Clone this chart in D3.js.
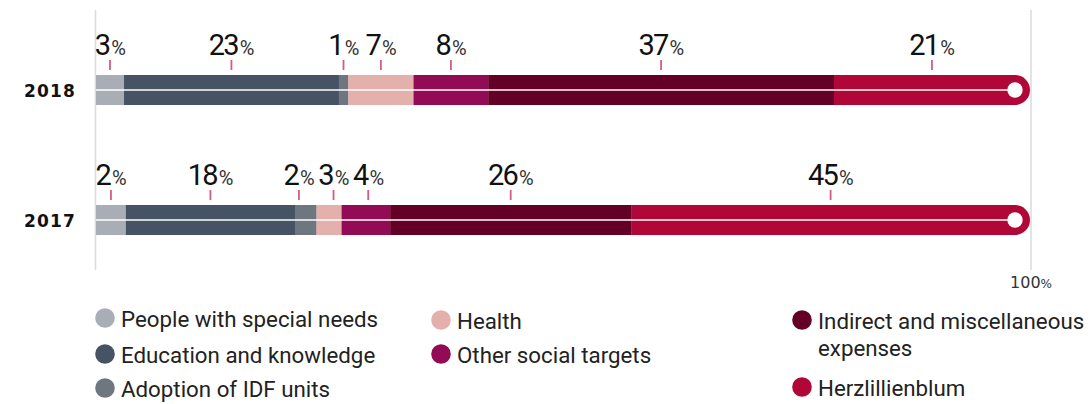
<!DOCTYPE html>
<html>
<head>
<meta charset="utf-8">
<script src="https://cdn.jsdelivr.net/npm/d3@7"></script>
<style>
  html, body { margin: 0; padding: 0; background: #fff; }
  svg { display: block; }
</style>
</head>
<body>
<svg id="chart" width="1090" height="404"></svg>
<script>
// data
var years = ['2018', '2017'];
var categories = ['People with special needs', 'Education and knowledge', 'Adoption of IDF units',
  'Health', 'Other social targets', 'Indirect and miscellaneous expenses', 'Herzlillienblum'];
var colors = ['#a9aeb6', '#465365', '#6e7780', '#e3b0ab', '#930b55', '#640025', '#b00738'];
// bar widths (percent of total)
var values2018 = [3, 23, 1, 7, 8, 37, 21];
var values2017 = [3.2, 18.1, 2.3, 2.7, 5.2, 25.8, 42.7];
// printed labels
var labels2018 = [3, 23, 1, 7, 8, 37, 21];
var labels2017 = [2, 18, 2, 3, 4, 26, 45];

var rows = [
  {year: '2018', values: values2018, labels: labels2018},
  {year: '2017', values: values2017, labels: labels2017}
];

var svg = d3.select('#chart');
var width = 1090, height = 404;
var barH = 30;

var x = d3.scaleLinear().domain([0, 100]).range([96, 1030]);
var y = d3.scalePoint().domain(years).range([90, 220]);

// frame lines at 0 and 100
svg.selectAll('.frame')
  .data([0, 100])
  .enter().append('line')
  .attr('x1', function(d) { return x(d) + (d ? 1 : -0.5); })
  .attr('x2', function(d) { return x(d) + (d ? 1 : -0.5); })
  .attr('y1', 10).attr('y2', 270)
  .attr('stroke', '#dcdcdc').attr('stroke-width', 1.6);

var labelFont = 'Roboto, sans-serif';

rows.forEach(function(row) {
  var cy = y(row.year), top = cy - barH / 2, bottom = cy + barH / 2, r = barH / 2;
  var ends = d3.cumsum(row.values);
  var segs = row.values.map(function(v, i) {
    return {i: i, x0: i ? ends[i - 1] : 0, x1: ends[i], label: row.labels[i]};
  });
  var last = segs.length - 1;

  var g = svg.append('g');

  g.selectAll('path.seg')
    .data(segs)
    .enter().append('path')
    .attr('class', 'seg')
    .attr('fill', function(d) { return colors[d.i]; })
    .attr('d', function(d) {
      var a = x(d.x0), b = x(d.x1);
      if (d.i === last) {
        return 'M' + a + ',' + top + 'H' + (b - r) + 'A' + r + ',' + r + ' 0 0 1 ' + (b - r) + ',' + bottom + 'H' + a + 'Z';
      }
      return 'M' + a + ',' + top + 'H' + (b + 0.3) + 'V' + bottom + 'H' + a + 'Z';
    });

  // white centre line and end dot
  g.append('line')
    .attr('x1', x(0)).attr('x2', x(100) - r)
    .attr('y1', cy).attr('y2', cy)
    .attr('stroke', '#fff').attr('stroke-width', 1.4);
  g.append('circle')
    .attr('cx', x(100) - r).attr('cy', cy).attr('r', 7.7)
    .attr('fill', '#fff');

  // year label
  g.append('text')
    .attr('x', 76).attr('y', cy + 6.5)
    .attr('text-anchor', 'end')
    .style('font-family', '"DejaVu Sans", sans-serif')
    .style('font-weight', 'bold')
    .style('font-size', '17px')
    .style('letter-spacing', '1.2px')
    .attr('fill', '#111')
    .text(row.year);

  // value labels
  var texts = g.selectAll('text.val')
    .data(segs)
    .enter().append('text')
    .attr('class', 'val')
    .attr('y', top - 20)
    .attr('text-anchor', 'middle')
    .style('font-family', labelFont)
    .attr('fill', '#111');
  texts.append('tspan')
    .style('font-size', '29px')
    .style('letter-spacing', '-1.8px')
    .text(function(d) { return d.label; });
  texts.append('tspan')
    .style('font-size', '20px')
    .style('letter-spacing', '-0.5px')
    .attr('fill', '#333').attr('dx', 2).text('%');

  // start at segment centre, then push apart overlapping labels
  segs.forEach(function(d, i) {
    d.pos = x((d.x0 + d.x1) / 2);
    d.w = texts.nodes()[i].getBBox().width;
  });
  for (var k = 0; k < 60; k++) {
    for (var i = 1; i < segs.length; i++) {
      var a = segs[i - 1], b = segs[i];
      var need = (a.w + b.w) / 2 + 4;
      var gap = b.pos - a.pos;
      if (gap < need) {
        var shift = (need - gap) / 2;
        a.pos -= shift;
        b.pos += shift;
      }
    }
  }
  texts.attr('x', function(d) { return d.pos; });

  g.selectAll('line.tick')
    .data(segs)
    .enter().append('line')
    .attr('class', 'tick')
    .attr('x1', function(d) { return d.pos; })
    .attr('x2', function(d) { return d.pos; })
    .attr('y1', top - 15).attr('y2', top - 5)
    .attr('stroke', '#d35c80').attr('stroke-width', 1.8);
});

// 100% label
var hundred = svg.append('text')
  .attr('x', x(100) + 1).attr('y', 288)
  .attr('text-anchor', 'middle')
  .style('font-family', '"DejaVu Sans", sans-serif')
  .attr('fill', '#333');
hundred.append('tspan').style('font-size', '16px').text('100');
hundred.append('tspan').style('font-size', '12px').text('%');

// legend
var legendItems = [
  {i: 0, cx: 105, cy: 318, lines: ['People with special needs']},
  {i: 1, cx: 105, cy: 354, lines: ['Education and knowledge']},
  {i: 2, cx: 105, cy: 388, lines: ['Adoption of IDF units']},
  {i: 3, cx: 441, cy: 320, lines: ['Health']},
  {i: 4, cx: 441, cy: 354, lines: ['Other social targets']},
  {i: 5, cx: 802, cy: 320, lines: ['Indirect and miscellaneous', 'expenses']},
  {i: 6, cx: 802, cy: 387, lines: ['Herzlillienblum']}
];

var leg = svg.selectAll('g.leg')
  .data(legendItems)
  .enter().append('g')
  .attr('class', 'leg');

leg.append('circle')
  .attr('cx', function(d) { return d.cx; })
  .attr('cy', function(d) { return d.cy; })
  .attr('r', 9.8)
  .attr('fill', function(d) { return colors[d.i]; });

leg.append('text')
  .attr('y', function(d) { return d.cy + 8.5; })
  .style('font-family', 'Roboto, sans-serif')
  .style('font-size', '22.3px')
  .attr('fill', '#222')
  .each(function(d) {
    var t = d3.select(this);
    d.lines.forEach(function(line, j) {
      t.append('tspan')
        .attr('x', d.cx + 16)
        .attr('dy', j ? 27 : 0)
        .text(line);
    });
  });
</script>
</body>
</html>
